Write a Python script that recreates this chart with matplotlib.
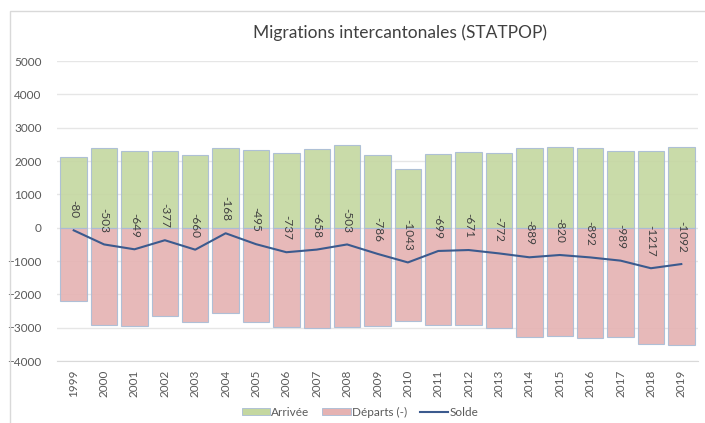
import matplotlib.pyplot as plt
import numpy as np
from matplotlib.patches import Rectangle
from matplotlib.lines import Line2D

plt.rcParams["font.family"] = ["Lato", "DejaVu Sans"]

years = [str(y) for y in range(1999, 2020)]
arrivals = [2117, 2404, 2305, 2285, 2177, 2386, 2326, 2245, 2345, 2476, 2177,
            1766, 2206, 2255, 2225, 2386, 2425, 2404, 2285, 2285, 2425]
solde = [-80, -503, -649, -377, -660, -168, -495, -737, -658, -503, -786,
         -1043, -699, -671, -772, -889, -820, -892, -989, -1217, -1092]
departures = [a - s for a, s in zip(arrivals, solde)]

GREEN = "#c4d7a0"
PINK = "#e5b2b2"
EDGE = "#a8bcd6"
LINE = "#3b5a8e"
GREY = "#595959"

fig = plt.figure(figsize=(7.05, 4.23), dpi=100)
ax = fig.add_axes([57 / 705, 1 - 361 / 423, 641 / 705, 300 / 423])

x = np.arange(len(years))
ax.bar(x, arrivals, width=0.87, color=GREEN, edgecolor=EDGE, linewidth=0.8,
       alpha=0.9, zorder=2)
ax.bar(x, [-d for d in departures], width=0.87, color=PINK, edgecolor=EDGE,
       linewidth=0.8, alpha=0.9, zorder=2)
ax.plot(x, solde, color=LINE, linewidth=1.5, zorder=3)

for xi, s in zip(x, solde):
    ax.annotate(str(s), (xi, s), xytext=(0, 8.5), textcoords="offset points",
                rotation=270, ha="center", va="bottom", fontsize=8.5,
                color="#404040", zorder=4)

ax.set_xlim(-0.55, len(years) - 0.45)
ax.set_ylim(-4000, 5000)
ax.set_yticks(range(-4000, 5001, 1000))
ax.set_xticks(x)
ax.set_xticklabels(years, rotation=90)
ax.tick_params(axis="both", length=0, labelsize=8.5, labelcolor=GREY)
ax.tick_params(axis="y", pad=11)
ax.tick_params(axis="x", pad=6)
ax.grid(axis="y", color="#e6e6e6", linewidth=1, zorder=1)
ax.set_axisbelow(True)
for side in ["top", "right", "left"]:
    ax.spines[side].set_visible(False)
ax.spines["bottom"].set_color("#d9d9d9")

fig.text(400 / 705, 1 - 33 / 423, "Migrations intercantonales (STATPOP)",
         ha="center", va="center", fontsize=12.5, color="#404040")

handles = [Rectangle((0, 0), 1, 1, facecolor=GREEN, edgecolor=EDGE, linewidth=0.6),
           Rectangle((0, 0), 1, 1, facecolor=PINK, edgecolor=EDGE, linewidth=0.6),
           Line2D([0], [0], color=LINE, linewidth=1.5)]
fig.legend(handles, ["Arrivée", "Départs (-)", "Solde"], ncol=3,
           loc="center", bbox_to_anchor=(360 / 705, 1 - 412 / 423),
           frameon=False, fontsize=8.5, labelcolor=GREY, handlelength=2.4,
           handleheight=0.55, handletextpad=0.1, columnspacing=1.1)

fig.add_artist(Rectangle((9.5 / 705, -0.1), 1.2, 1 - 11 / 423 + 0.1,
                         transform=fig.transFigure, fill=False,
                         edgecolor="#d9d9d9", linewidth=1))

fig.savefig("out.png", dpi=100)
